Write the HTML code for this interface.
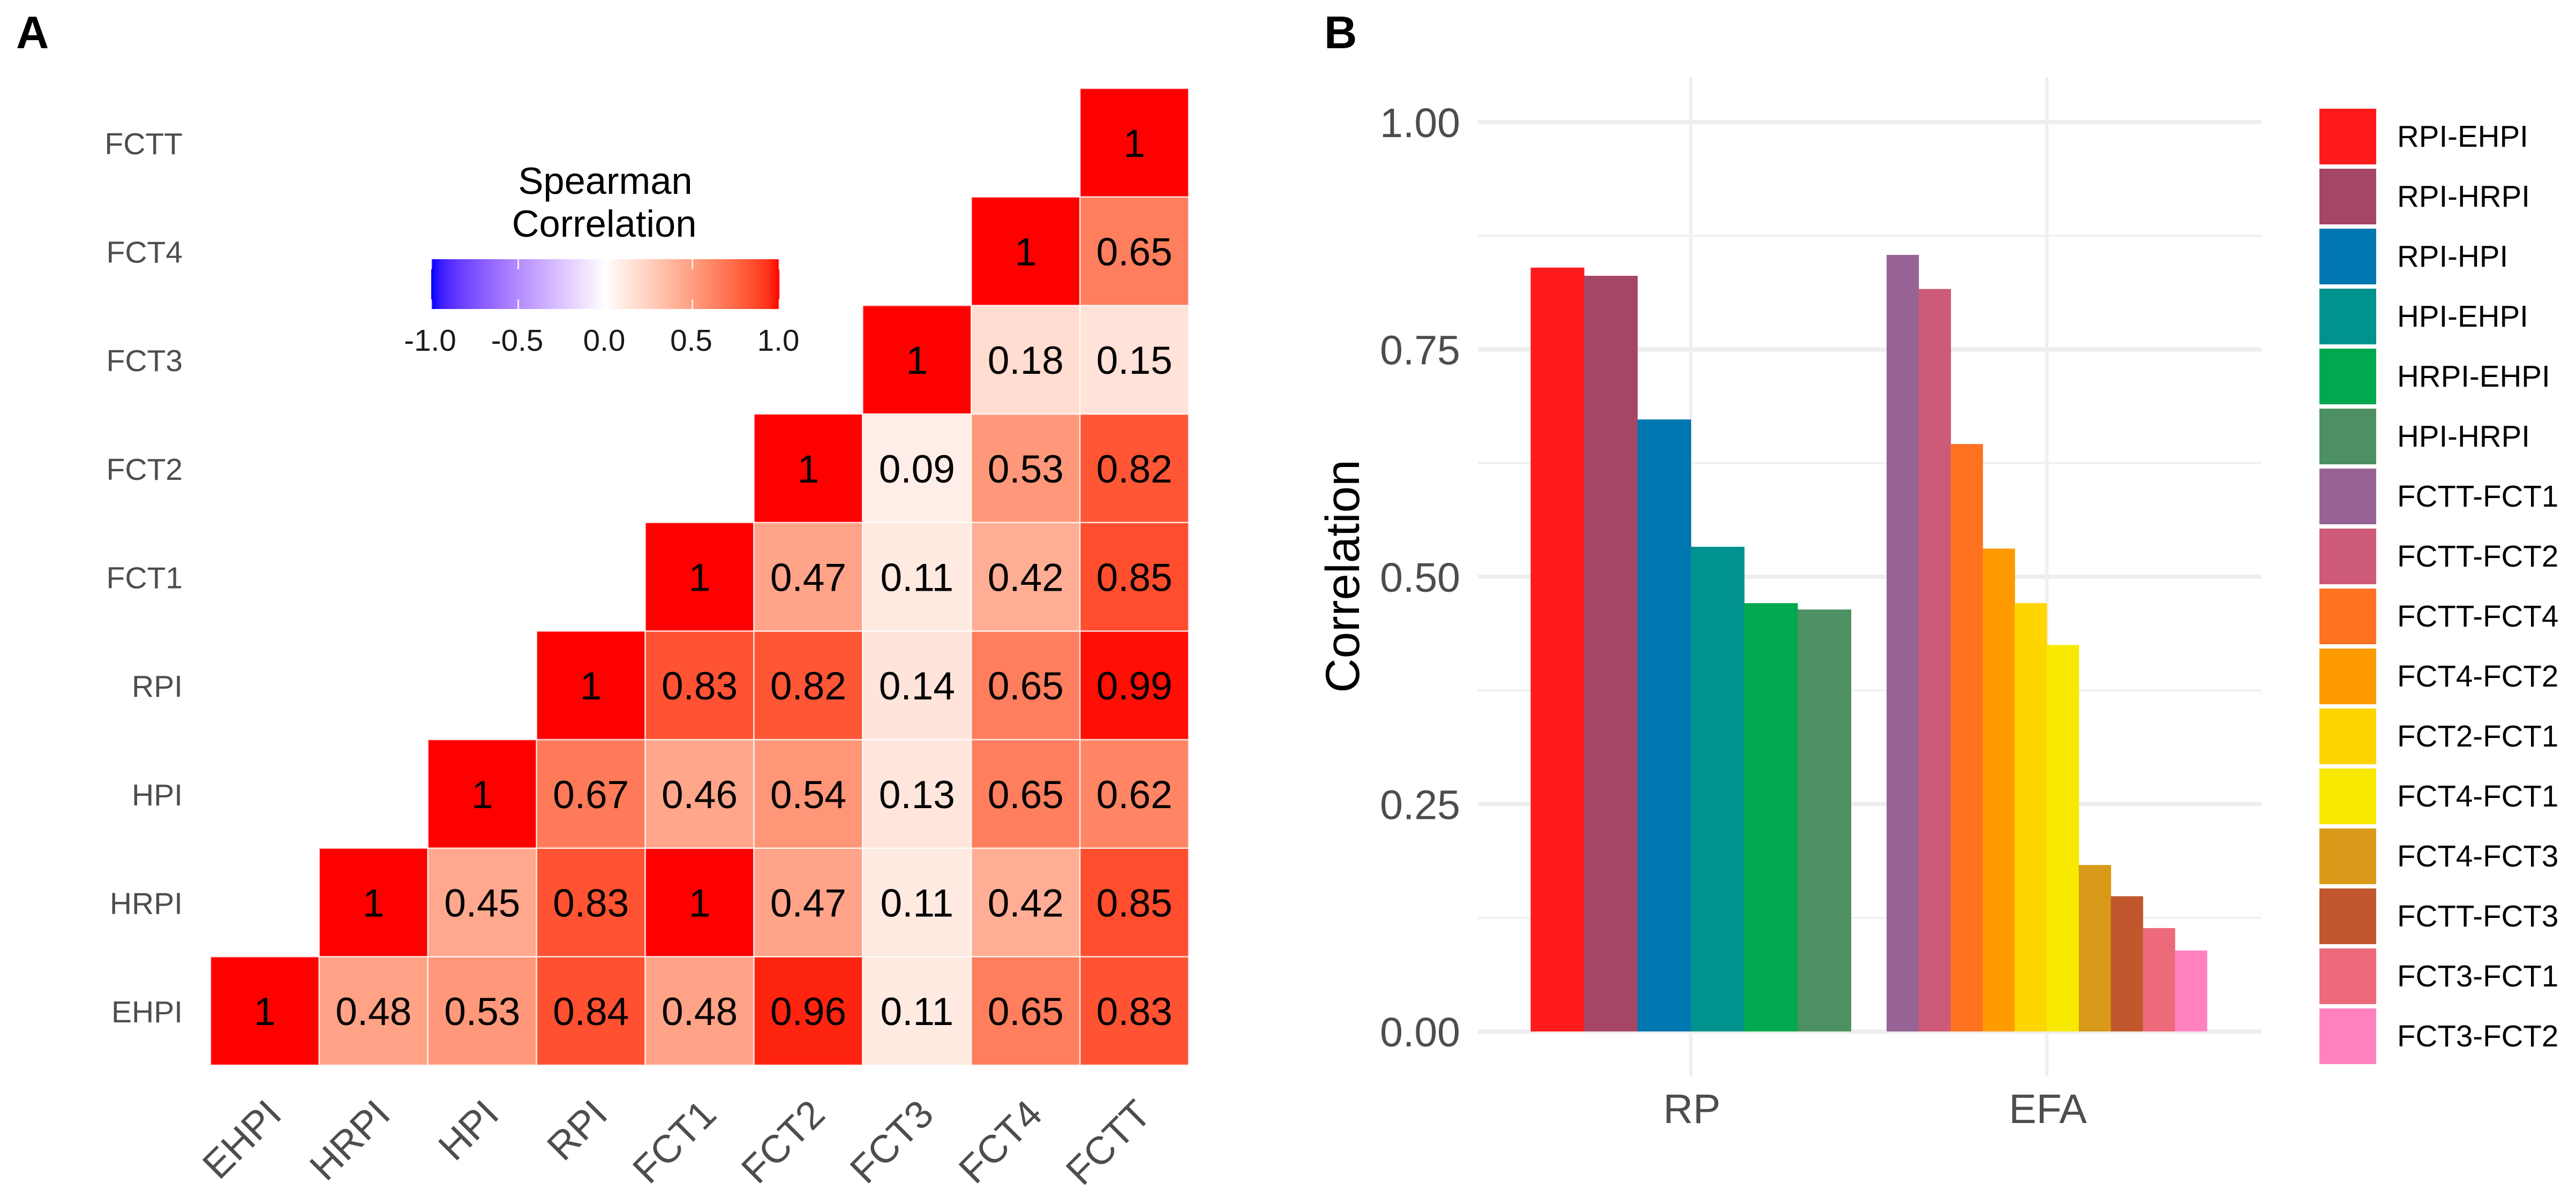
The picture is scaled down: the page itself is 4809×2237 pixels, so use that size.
<!DOCTYPE html>
<html lang="en">
<head>
<meta charset="utf-8">
<title>Correlation figure</title>
<style>
html,body{margin:0;padding:0;background:#fff}
svg{display:block}
text{font-family:"Liberation Sans",Arial,sans-serif}
</style>
</head>
<body>
<svg id="figure" xmlns="http://www.w3.org/2000/svg" width="4809" height="2237" viewBox="0 0 4809 2237">
  <rect width="4809" height="2237" fill="#ffffff"/>
  <defs><linearGradient id="cbar" x1="0" x2="1" y1="0" y2="0"></linearGradient></defs>
  <text x="30" y="90" font-size="85" font-weight="700" fill="#000">A</text>
  <text x="2472" y="90" font-size="85" font-weight="700" fill="#000">B</text>
  <g id="heatmap"></g>
  <g id="colorbar"></g>
  <g id="bars"></g>
  <g id="legend"></g>
</svg>
<script>
// ---------- Heatmap data ----------
const heatCategories = ["EHPI","HRPI","HPI","RPI","FCT1","FCT2","FCT3","FCT4","FCTT"];
const rowEHPI = [1,0.48,0.53,0.84,0.48,0.96,0.11,0.65,0.83];
const rowHRPI = [null,1,0.45,0.83,1,0.47,0.11,0.42,0.85];
const rowHPI  = [null,null,1,0.67,0.46,0.54,0.13,0.65,0.62];
const rowRPI  = [null,null,null,1,0.83,0.82,0.14,0.65,0.99];
const rowFCT1 = [null,null,null,null,1,0.47,0.11,0.42,0.85];
const rowFCT2 = [null,null,null,null,null,1,0.09,0.53,0.82];
const rowFCT3 = [null,null,null,null,null,null,1,0.18,0.15];
const rowFCT4 = [null,null,null,null,null,null,null,1,0.65];
const rowFCTT = [null,null,null,null,null,null,null,null,1];
const heatRows = [rowEHPI,rowHRPI,rowHPI,rowRPI,rowFCT1,rowFCT2,rowFCT3,rowFCT4,rowFCTT];
const colorbarTicks = [-1,-0.5,0,0.5,1];

// ---------- Bar data ----------
const barGroups = ["RP","EFA"];
const rpPairs = ["RPI-EHPI","RPI-HRPI","RPI-HPI","HPI-EHPI","HRPI-EHPI","HPI-HRPI"];
const rpValues = [0.84,0.831,0.673,0.533,0.471,0.464];
const efaPairs = ["FCTT-FCT1","FCTT-FCT2","FCTT-FCT4","FCT4-FCT2","FCT2-FCT1","FCT4-FCT1","FCT4-FCT3","FCTT-FCT3","FCT3-FCT1","FCT3-FCT2"];
const efaValues = [0.854,0.8165,0.646,0.531,0.471,0.425,0.183,0.1487,0.1137,0.089];
const yTicks = [0,0.25,0.5,0.75,1];
const yMinorTicks = [0.125,0.375,0.625,0.875];
const pairColors = ["#ff1a1c","#a64666","#0077b0","#00928e","#00a94f","#4d9162","#976394","#cc5a78","#ff7222","#ff9a00","#ffd500","#f7ea00","#d89a18","#c1572d","#ec6a7a","#ff82bf"];

// ---------- Helpers ----------
const NS = "http://www.w3.org/2000/svg";
function mk(parent, tag, attrs, txt){
  const el = document.createElementNS(NS, tag);
  for (const k in attrs) el.setAttribute(k, attrs[k]);
  if (txt !== undefined) el.textContent = txt;
  parent.appendChild(el);
  return el;
}
function lab2rgb(L,a,b){
  const fy=(L+16)/116, fx=fy+a/500, fz=fy-b/200;
  const f=t=>t>6/29?t*t*t:3*(6/29)*(6/29)*(t-4/29);
  const X=0.95047*f(fx),Y=f(fy),Z=1.08883*f(fz);
  const R=3.2406*X-1.5372*Y-0.4986*Z,G=-0.9689*X+1.8758*Y+0.0415*Z,B=0.0557*X-0.2040*Y+1.0570*Z;
  const g=c=>{c=Math.max(0,Math.min(1,c));return Math.round(255*(c<=0.0031308?12.92*c:1.055*Math.pow(c,1/2.4)-0.055));};
  return "rgb("+g(R)+","+g(G)+","+g(B)+")";
}
function fillScale(v){
  const white=[100,0,0], red=[53.24,80.09,67.2], blue=[32.3,79.19,-107.86];
  const end=v>=0?red:blue, t=Math.abs(v);
  return lab2rgb(white[0]+(end[0]-white[0])*t,white[1]+(end[1]-white[1])*t,white[2]+(end[2]-white[2])*t);
}

// ---------- Heatmap ----------
const heatG = document.getElementById("heatmap");
const CELL = 202.9;
const heatX = i => 393 + i*CELL;
const heatY = r => 1989 - (r+1)*(1824/9);
const ROWH = 1824/9;
heatRows.forEach((row,r)=>{
  row.forEach((v,c)=>{
    if(v===null) return;
    const rect = mk(heatG,"rect",{x:heatX(c),y:heatY(r),width:CELL,height:ROWH,fill:fillScale(v),stroke:"#ffffff","stroke-width":2.5,"stroke-opacity":0.75});
    
    
  });
});
heatRows.forEach((row,r)=>{
  row.forEach((v,c)=>{
    if(v===null) return;
    const t = mk(heatG,"text",{x:heatX(c)+CELL/2,y:heatY(r)+ROWH/2+26.5,"font-size":73,"text-anchor":"middle",fill:"#000"},String(v));
    
    
  });
});
heatCategories.forEach((name,i)=>{
  const yl = mk(heatG,"text",{x:341,y:heatY(i)+ROWH/2+21.5,"font-size":57,"text-anchor":"end",fill:"#4d4d4d"},name);
  
  
  const ax = heatX(i)+CELL/2+35, ay = 2085;
  const xl = mk(heatG,"text",{x:ax,y:ay,"font-size":73,"text-anchor":"end",fill:"#4d4d4d",transform:"rotate(-45 "+ax+" "+ay+")"},name);
  
  
});

// ---------- Colorbar ----------
const cbG = document.getElementById("colorbar");
const cbX = v => 1130 + v*325;
const grad = document.getElementById("cbar");
for(let i=0;i<=40;i++){
  const v=-1+i/20;
  mk(grad,"stop",{offset:(i/40),"stop-color":fillScale(v)});
}
const t1 = mk(cbG,"text",{x:1130,y:362,"font-size":70.5,"text-anchor":"middle",fill:"#000"},"Spearman");


const t2 = mk(cbG,"text",{x:1128,y:442,"font-size":70.5,"text-anchor":"middle",fill:"#000"},"Correlation");


const cbRect = mk(cbG,"rect",{x:805,y:484,width:650,height:93,fill:"url(#cbar)"});


colorbarTicks.forEach(v=>{
  const a = mk(cbG,"rect",{x:cbX(v)-1.5,y:484,width:3,height:19,fill:"#fff","fill-opacity":0.8});
  
  
  const b = mk(cbG,"rect",{x:cbX(v)-1.5,y:559,width:3,height:18,fill:"#fff","fill-opacity":0.8});
  
  
  const l = mk(cbG,"text",{x:cbX(v)-2,y:655,"font-size":56.6,"text-anchor":"middle",fill:"#1a1a1a"},v.toFixed(1));
  
  
});

// ---------- Bars ----------
const barG = document.getElementById("bars");
const valY = v => 1926 - 1698*v;
const groupX = i => 3156.5 + i*664.5;
const BAND = 598;
yMinorTicks.forEach(v=>{
  const g = mk(barG,"line",{x1:2759,x2:4222,y1:valY(v),y2:valY(v),stroke:"#f2f2f2","stroke-width":4.5});
  
  
});
yTicks.forEach(v=>{
  const g = mk(barG,"line",{x1:2759,x2:4222,y1:valY(v),y2:valY(v),stroke:"#eeeeee","stroke-width":8});
  
  
  const l = mk(barG,"text",{x:2726,y:valY(v)+28,"font-size":77,"text-anchor":"end",fill:"#4d4d4d"},v.toFixed(2));
  
  
});
barGroups.forEach((name,i)=>{
  const g = mk(barG,"line",{x1:groupX(i),x2:groupX(i),y1:144,y2:2010,stroke:"#f0f0f0","stroke-width":6.5});
  
  
  const l = mk(barG,"text",{x:groupX(i)+2,y:2097,"font-size":77,"text-anchor":"middle",fill:"#4d4d4d"},name);
  
  
});
const allSeries = [rpValues, efaValues];
let colorIndex = 0;
allSeries.forEach((vals,gi)=>{
  const w = BAND/vals.length;
  const left = groupX(gi) - BAND/2;
  vals.forEach((v,i)=>{
    const b = mk(barG,"rect",{x:left+i*w,y:valY(v),width:w+0.5,height:valY(0)-valY(v),fill:pairColors[colorIndex++]});
    
    
  });
});
const yTitle = mk(barG,"text",{x:2537,y:1076,"font-size":89,"text-anchor":"middle",fill:"#000",transform:"rotate(-90 2537 1076)"},"Correlation");



// ---------- Legend ----------
const legG = document.getElementById("legend");
rpPairs.concat(efaPairs).forEach((name,i)=>{
  const top = 203 + i*112;
  const k = mk(legG,"rect",{x:4330,y:top,width:106,height:104,fill:pairColors[i]});
  
  
  const l = mk(legG,"text",{x:4475,y:top+71,"font-size":56.5,fill:"#000"},name);
  
  
});
</script>
</body>
</html>
